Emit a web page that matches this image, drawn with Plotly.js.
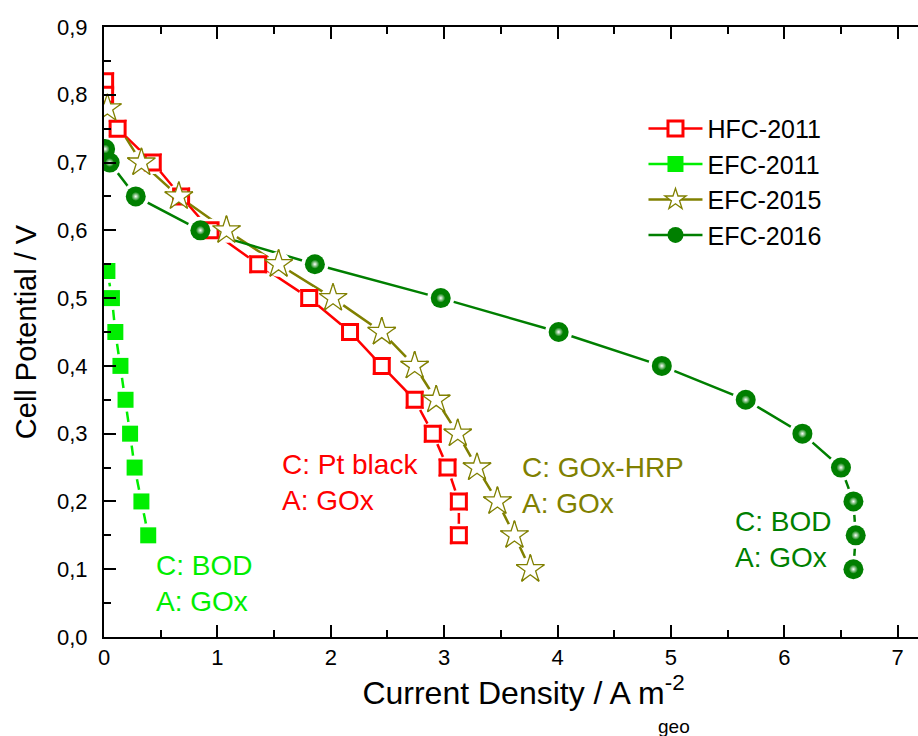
<!DOCTYPE html>
<html>
<head>
<meta charset="utf-8">
<script src="https://cdn.plot.ly/plotly-3.0.1.min.js"></script>
<style>
  html, body { margin: 0; padding: 0; overflow: hidden; background: #fff; }
  #chart { width: 960px; height: 736px; }
</style>
</head>
<body>
<div id="chart"></div>
<script>
// ---- data ----
const seriesNames = ["HFC-2011", "EFC-2011", "EFC-2015", "EFC-2016"];

const hfc2011X = [0.01, 0.01, 0.12, 0.43, 0.68, 0.94, 1.36, 1.81, 2.17, 2.45, 2.74, 2.90, 3.03, 3.13, 3.13];
const hfc2011Y = [0.82, 0.80, 0.75, 0.70, 0.65, 0.60, 0.55, 0.50, 0.45, 0.40, 0.35, 0.30, 0.25, 0.20, 0.15];

const efc2011X = [0.03, 0.07, 0.10, 0.145, 0.19, 0.23, 0.27, 0.33, 0.39];
const efc2011Y = [0.54, 0.50, 0.45, 0.40, 0.35, 0.30, 0.25, 0.20, 0.15];

const efc2015X = [0.03, 0.33, 0.66, 1.08, 1.54, 2.02, 2.45, 2.74, 2.93, 3.12, 3.29, 3.47, 3.62, 3.76];
const efc2015Y = [0.78, 0.70, 0.65, 0.60, 0.55, 0.50, 0.45, 0.40, 0.35, 0.30, 0.25, 0.20, 0.15, 0.10];

const efc2016X = [0.01, 0.05, 0.28, 0.85, 1.86, 2.97, 4.01, 4.92, 5.66, 6.16, 6.50, 6.61, 6.63, 6.61];
const efc2016Y = [0.72, 0.70, 0.65, 0.60, 0.55, 0.50, 0.45, 0.40, 0.35, 0.30, 0.25, 0.20, 0.15, 0.10];

const xTickVals = [0, 1, 2, 3, 4, 5, 6, 7];
const yTickVals = [0, 0.1, 0.2, 0.3, 0.4, 0.5, 0.6, 0.7, 0.8, 0.9];

const annoLabels = [
  "C: Pt black<br>A: GOx",
  "C: GOx-HRP<br>A: GOx",
  "C: BOD<br>A: GOx",
  "C: BOD<br>A: GOx"
];

// ---- styles ----
const FONT = "Liberation Sans, Arial, Helvetica, sans-serif";
const RED = "#ff0000", LIME = "#00ee00", OLIVE = "#808000", DKGREEN = "#007f00";

const series = [
  { name: seriesNames[0], x: hfc2011X, y: hfc2011Y, color: RED,
    marker: { symbol: "square", size: 15, color: "#ffffff", line: { color: RED, width: 3 } }, halo: 23 },
  { name: seriesNames[1], x: efc2011X, y: efc2011Y, color: LIME,
    marker: { symbol: "square", size: 16, color: LIME, line: { width: 0 } }, halo: 24 },
  { name: seriesNames[2], x: efc2015X, y: efc2015Y, color: OLIVE,
    marker: { symbol: "star", size: 21, color: "#ffffff", line: { color: OLIVE, width: 1.3 } }, halo: 25 },
  { name: seriesNames[3], x: efc2016X, y: efc2016Y, color: DKGREEN,
    marker: { symbol: "circle", size: 20, color: DKGREEN, line: { width: 0 } }, halo: 27 }
];

const traces = [];
// lines (with legend entries)
series.forEach(s => traces.push({
  type: "scatter", mode: "lines+markers", name: s.name, x: s.x, y: s.y,
  line: { color: s.color, width: 2.5 }, marker: s.marker, hoverinfo: "x+y"
}));
// white halos to create the gaps between line and marker
series.forEach(s => traces.push({
  type: "scatter", mode: "markers", x: s.x, y: s.y, showlegend: false, hoverinfo: "skip",
  marker: { symbol: "circle", size: s.halo, color: "#ffffff", line: { width: 0 } }
}));
// markers on top
series.forEach(s => traces.push({
  type: "scatter", mode: "markers", x: s.x, y: s.y, showlegend: false, hoverinfo: "skip",
  marker: s.marker
}));
// highlight on the green spheres
traces.push({
  type: "scatter", mode: "markers", x: efc2016X, y: efc2016Y, showlegend: false, hoverinfo: "skip",
  marker: { symbol: "circle", size: 9, color: DKGREEN, line: { width: 0 },
            gradient: { type: "radial", color: "#ffffff" } }
});

const axisCommon = {
  showline: true, linecolor: "#000", linewidth: 2, mirror: "ticks",
  ticks: "inside", ticklen: 12, tickwidth: 2, tickcolor: "#000",
  showgrid: false, zeroline: false,
  tickfont: { family: FONT, size: 22, color: "#000" }
};

const layout = {
  width: 960, height: 736,
  margin: { l: 104, r: 17, t: 27, b: 99, pad: 0 },
  paper_bgcolor: "#fff", plot_bgcolor: "#fff",
  separators: ",.",
  font: { family: FONT, color: "#000" },
  showlegend: true,
  legend: {
    x: 0.643, y: 0.871, xanchor: "left", yanchor: "top",
    bgcolor: "rgba(0,0,0,0)", borderwidth: 0,
    font: { family: FONT, size: 25, color: "#000" },
    itemsizing: "trace", itemwidth: 54, tracegroupgap: 0
  },
  xaxis: Object.assign({}, axisCommon, {
    range: [0, 7.4], tickvals: xTickVals, tickformat: "d",
    minor: { dtick: 0.5, ticks: "inside", ticklen: 7, tickwidth: 2, tickcolor: "#000" },
    title: { text: "Current Density / A m<sup>-2</sup>", font: { family: FONT, size: 32, color: "#000" }, standoff: 0 }
  }),
  yaxis: Object.assign({}, axisCommon, {
    range: [0, 0.9], tickvals: yTickVals, tickformat: ".1f", ticklabelstandoff: 10,
    minor: { dtick: 0.05, ticks: "inside", ticklen: 7, tickwidth: 2, tickcolor: "#000" },
    title: { text: "Cell Potential / V", font: { family: FONT, size: 29, color: "#000" }, standoff: 12 }
  }),
  annotations: [
    { text: annoLabels[0], x: 1.55, y: 0.228, xref: "x", yref: "y", xanchor: "left", yanchor: "middle",
      align: "left", showarrow: false, font: { family: FONT, size: 28, color: RED } },
    { text: annoLabels[1], x: 3.665, y: 0.223, xref: "x", yref: "y", xanchor: "left", yanchor: "middle",
      align: "left", showarrow: false, font: { family: FONT, size: 28, color: OLIVE } },
    { text: annoLabels[2], x: 5.55, y: 0.144, xref: "x", yref: "y", xanchor: "left", yanchor: "middle",
      align: "left", showarrow: false, font: { family: FONT, size: 28, color: DKGREEN } },
    { text: annoLabels[3], x: 0.44, y: 0.079, xref: "x", yref: "y", xanchor: "left", yanchor: "middle",
      align: "left", showarrow: false, font: { family: FONT, size: 28, color: LIME } },
    { text: "geo", x: 0.679, y: -0.146, xref: "paper", yref: "paper", xanchor: "center", yanchor: "middle",
      showarrow: false, font: { family: FONT, size: 19, color: "#000" } }
  ]
};

Plotly.newPlot("chart", traces, layout, { displayModeBar: false, staticPlot: true });
</script>
</body>
</html>
